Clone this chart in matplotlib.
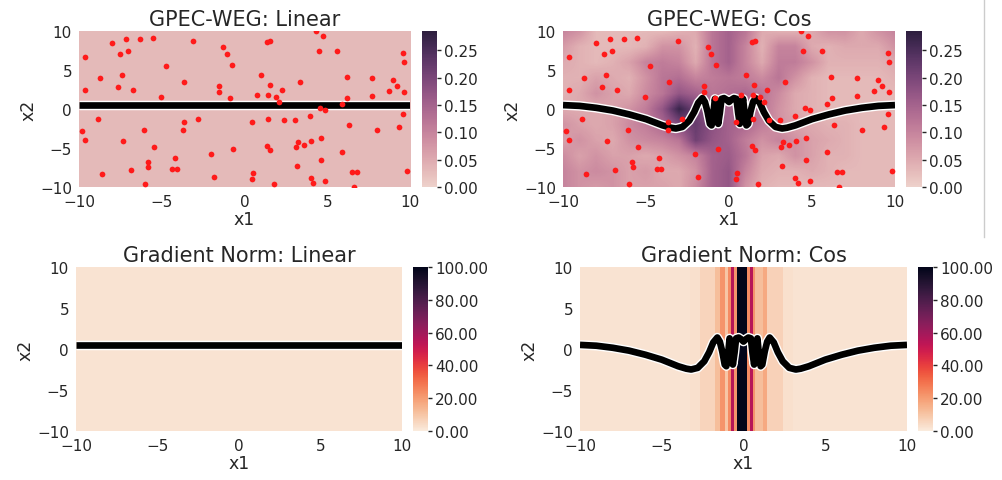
import numpy as np
import matplotlib.pyplot as plt
import matplotlib.patheffects as pe
import seaborn as sns

# sample points (same set in both GPEC-WEG panels)
pts_x = [-8.02, -7.16, -6.30, -5.55, -3.09, -1.28, -9.64, -7.54, -7.04, -1.06, -0.76,
         -4.73, -7.38, -8.75, -3.64, -1.52, -9.66, -7.66, -6.74, -1.52, -5.05, -0.86,
         4.32, 1.38, 1.54, 4.74, 4.48, 5.61, 9.58, 9.64, 1.00, 6.17, 7.70, 8.95, 1.52,
         3.37, 9.20, 2.27, 8.75, 9.62, 0.74, 1.42, 1.88, 6.19, 7.70, 2.08, 5.89,
         4.56, 4.85, 0.45, 1.42, 2.39, 3.07, 3.98, 6.33, 7.99, 9.35, 9.59, 3.25, 4.04,
         4.64, 3.59, 1.36, 1.56, 3.11, 5.91, 4.64, 3.17, 0.50, 0.45, 1.76, 4.00, 4.14,
         4.85, 6.49, 6.82, 6.63, 9.84,
         -8.87, -9.80, -9.66, -7.32, -6.09, -3.66, -2.81, -3.70, -5.47, -4.22, -5.85,
         -5.81, -4.36, -4.08, -2.02, -0.68, -8.61, -6.84, -1.86, -6.01]
pts_y = [8.52, 8.98, 8.98, 9.16, 8.69, 7.92, 6.73, 7.07, 7.45, 7.03, 5.66,
         5.53, 4.38, 3.93, 3.42, 2.98, 2.43, 2.85, 2.47, 2.18, 1.58, 1.41,
         9.95, 8.65, 8.72, 9.36, 7.41, 7.50, 7.19, 6.04, 4.35, 4.13, 3.93, 3.71, 3.11,
         3.45, 2.94, 2.39, 2.30, 2.14, 1.83, 1.83, 1.50, 1.41, 1.67, 0.90, 0.61,
         0.10, -0.16, -1.69, -1.23, -1.39, -1.36, -0.92, -2.07, -2.63, -2.33, -0.59, -4.20, -4.08,
         -3.78, -4.62, -4.71, -5.26, -4.93, -5.52, -6.59, -7.26, -8.16, -8.96, -9.65, -8.84, -9.43,
         -9.27, -8.12, -8.12, -9.95, -7.99,
         -1.27, -2.80, -3.95, -4.04, -2.63, -1.69, -1.23, -2.71, -4.93, -6.33, -6.79,
         -7.43, -7.65, -7.65, -5.82, -5.13, -8.29, -7.81, -8.67, -9.65]

# decision boundaries
lin_bx = [-10, 10]
lin_by = [0.5, 0.5]
cos_bx = [-10, -9, -8, -7, -6, -5, -4.5, -4, -3.5, -3.2, -2.8, -2.4, -2.1, -1.85, -1.6,
          -1.45, -1.3, -1.15, -1.05, -0.95, -0.85, -0.75, -0.65, -0.55, -0.45, -0.3,
          -0.15, 0.0, 0.15, 0.3, 0.45, 0.55, 0.65, 0.75, 0.85, 0.95, 1.05, 1.15, 1.3,
          1.45, 1.6, 1.85, 2.1, 2.4, 2.8, 3.2, 3.5, 4, 4.5, 5, 6, 7, 8, 9, 10]
cos_by = [0.5, 0.4, 0.15, -0.2, -0.7, -1.3, -1.7, -2.1, -2.4, -2.5, -2.3, -1.5, -0.4, 0.8, 1.4,
          0.9, -0.3, -1.9, -2.1, -0.8, 1.3, 0.2, -1.9, -0.5, 1.3, 1.4,
          1.2, 0.9, 1.2, 1.4, 1.3, -0.5, -1.9, 0.2, 1.3, -0.8, -2.1, -1.9, -0.3,
          0.9, 1.4, 0.8, -0.4, -1.5, -2.3, -2.5, -2.4, -2.1, -1.7, -1.3, -0.7, -0.2, 0.15, 0.4, 0.5]

# GPEC-WEG uncertainty grids (rows y = -10..10 step 2, cols x = -10..10 step 1), in 1/100
weg_linear = [[0.03, 0.03], [0.03, 0.03]]
weg_cos = np.array([
    [10, 8, 7, 8, 6, 6, 6, 5, 9, 15, 17, 8, 4, 3, 3, 3, 3, 3, 3, 3, 3],         # y=-10
    [10, 8, 9, 8, 6, 7, 5, 5, 8, 15, 17, 10, 5, 4, 4, 5, 4, 3, 3, 3, 3],        # y=-8
    [9, 6, 8, 6, 6, 5, 6, 8, 10, 15, 16, 12, 6, 5, 8, 6, 4, 4, 3, 3, 3],        # y=-6
    [6, 8, 6, 5, 8, 9, 10, 12, 21, 17, 15, 11, 8, 10, 8, 6, 5, 4, 3, 3, 3],     # y=-4
    [8, 6, 5, 6, 9, 11, 14, 19, 22, 18, 15, 14, 11, 8, 6, 5, 4, 4, 3, 3, 3],    # y=-2
    [5, 5, 5, 6, 8, 11, 17, 27, 21, 16, 15, 15, 12, 8, 5, 4, 3, 3, 3, 3, 3],    # y=0
    [4, 5, 8, 6, 5, 9, 12, 17, 15, 12, 13, 14, 12, 9, 5, 4, 3, 3, 3, 3, 3],     # y=2
    [4, 4, 6, 5, 4, 8, 12, 13, 10, 11, 12, 11, 9, 12, 8, 4, 3, 3, 3, 3, 4],     # y=4
    [5, 4, 3, 4, 6, 10, 11, 10, 5, 12, 15, 10, 5, 11, 11, 8, 4, 4, 4, 4, 5],    # y=6
    [7, 4, 3, 3, 3, 4, 8, 8, 4, 12, 15, 10, 4, 10, 10, 5, 4, 5, 5, 5, 8],       # y=8
    [10, 8, 3, 3, 3, 3, 3, 4, 5, 12, 15, 12, 5, 4, 4, 5, 8, 8, 5, 8, 10],       # y=10
]) / 100.0

# gradient norm: depends on x1 only (stripes)
grad_linear_edges = [-10, 10]
grad_linear_vals = [2]
grad_cos_edges = [-10, -3.3, -2.65, -1.75, -1.43, -1.12, -0.92, -0.78, -0.61, -0.41,
                  0.2, 0.37, 0.57, 0.71, 1.2, 1.43, 2.4, 3.0, 10]
grad_cos_vals = [2, 3, 6, 12, 22, 10, 24, 55, 22, 100, 24, 55, 22, 12, 17, 7, 3, 2]

weg_cmap = sns.cubehelix_palette(as_cmap=True)
grad_cmap = sns.color_palette("rocket_r", as_cmap=True)
txt = "#262626"

fig = plt.figure(figsize=(10.02, 4.81), dpi=100)


def place(l, t, r, b):
    return fig.add_axes([l / 1002, 1 - b / 481, (r - l) / 1002, (b - t) / 481])


def style(ax, title):
    ax.set_xlim(-10, 10)
    ax.set_ylim(-10, 10)
    ax.set_xticks([-10, -5, 0, 5, 10])
    ax.set_yticks([-10, -5, 0, 5, 10])
    ax.tick_params(length=0, labelsize=11, colors=txt, pad=5)
    for s in ax.spines.values():
        s.set_visible(False)
    ax.set_title(title, fontsize=15, color=txt, pad=4)
    ax.set_xlabel("x1", fontsize=12.5, color=txt, labelpad=1)
    ax.set_ylabel("x2", fontsize=12.5, color=txt, labelpad=2)


def cbar(mappable, cax, ticks):
    cb = fig.colorbar(mappable, cax=cax, format="%.2f", ticks=ticks)
    cb.outline.set_visible(False)
    cax.tick_params(length=3, width=1, labelsize=11, colors=txt, pad=2)
    return cb


def boundary(ax, bx, by):
    ax.plot(bx, by, color="black", lw=4.8, solid_capstyle="butt", zorder=2,
            path_effects=[pe.Stroke(linewidth=6.8, foreground="white"), pe.Normal()])


# top row: GPEC-WEG
weg_ticks = [0, 0.05, 0.10, 0.15, 0.20, 0.25]
for (l, r, cl, cr), grid, bx, by, title in [
        ((79, 410, 422, 437), weg_linear, lin_bx, lin_by, "GPEC-WEG: Linear"),
        ((563, 895, 906, 922), weg_cos, cos_bx, cos_by, "GPEC-WEG: Cos")]:
    ax = place(l, 32, r, 188)
    cax = place(cl, 32, cr, 188)
    g = np.asarray(grid)
    ny, nx = g.shape
    if nx > 2:
        ext = [-10.5, 10.5, -11, 11]
    else:
        ext = [-10, 10, -10, 10]
    im = ax.imshow(g, origin="lower", extent=ext, aspect="auto", cmap=weg_cmap,
                   vmin=0, vmax=0.285, interpolation="bilinear")
    boundary(ax, bx, by)
    ax.scatter(pts_x, pts_y, s=17, c="#ff1a1a", linewidths=0, zorder=3)
    style(ax, title)
    cbar(im, cax, weg_ticks)

# bottom row: gradient norm
grad_ticks = [0, 20, 40, 60, 80, 100]
for (l, r, cl, cr), edges, vals, bx, by, title in [
        ((76, 402, 413, 428), grad_linear_edges, grad_linear_vals, lin_bx, lin_by,
         "Gradient Norm: Linear"),
        ((580, 907, 918, 933), grad_cos_edges, grad_cos_vals, cos_bx, cos_by,
         "Gradient Norm: Cos")]:
    ax = place(l, 268, r, 432)
    cax = place(cl, 268, cr, 432)
    m = ax.pcolormesh(edges, [-10, 10], np.array([vals]), cmap=grad_cmap, vmin=0, vmax=100)
    boundary(ax, bx, by)
    style(ax, title)
    cbar(m, cax, grad_ticks)

fig.add_artist(plt.Line2D([983.5 / 1002] * 2, [1, 1 - 238 / 481], color="#cccccc", lw=1))

fig.savefig("out.png", dpi=100)
